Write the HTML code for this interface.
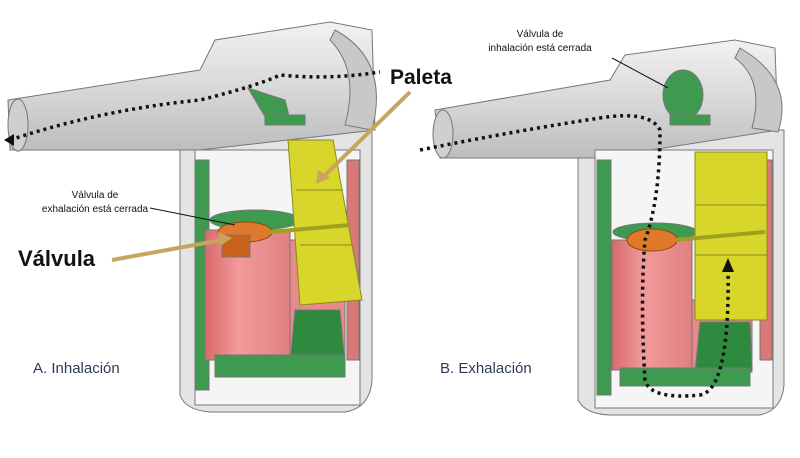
<!DOCTYPE html>
<html><head><meta charset="utf-8"><style>
html,body{margin:0;padding:0;background:#fff;width:800px;height:458px;overflow:hidden}
svg{display:block}
text{font-family:"Liberation Sans",sans-serif}
</style></head><body>
<svg width="800" height="458" viewBox="0 0 800 458" xmlns="http://www.w3.org/2000/svg">
<defs>
<linearGradient id="tube" x1="0" y1="0" x2="0" y2="1"><stop offset="0" stop-color="#f2f2f2"/><stop offset="0.5" stop-color="#d9d9d9"/><stop offset="1" stop-color="#bdbdbd"/></linearGradient>
<linearGradient id="pink" x1="0" y1="0" x2="1" y2="0"><stop offset="0" stop-color="#d96a6a"/><stop offset="0.4" stop-color="#f29a9a"/><stop offset="1" stop-color="#e08080"/></linearGradient>
</defs>

<!-- LEFT DEVICE -->
<g stroke="#777" stroke-width="1">
<path d="M180,150 L180,395 Q185,410 210,412 L345,412 Q370,408 372,380 L372,130 L180,130 Z" fill="#e4e4e4"/>
<path d="M8,100 L200,70 L215,40 L330,22 L372,30 L375,130 L200,150 L10,150 Z" fill="url(#tube)"/>
<ellipse cx="18" cy="125" rx="10" ry="26" fill="#cfcfcf"/>
<path d="M335,30 Q390,60 372,130 L345,125 Q360,70 330,40 Z" fill="#c8c8c8"/>
<rect x="195" y="150" width="165" height="255" fill="#f5f5f5"/>
<rect x="195" y="160" width="14" height="230" fill="#3e9a4e"/>
<rect x="347" y="160" width="12" height="200" fill="#d97878"/>
<path d="M205,230 L290,230 L290,360 L205,360 Z" fill="url(#pink)"/>
<rect x="290" y="240" width="55" height="120" fill="#e88a8a"/>
<ellipse cx="255" cy="220" rx="45" ry="10" fill="#3e9a4e"/>
<path d="M288,140 L333,140 L362,300 L300,305 Z" fill="#d8d62a" stroke="#8a8a20"/>
<line x1="296" y1="190" x2="343" y2="190" stroke="#8a8a20"/>
<line x1="300" y1="245" x2="352" y2="245" stroke="#8a8a20"/>
<path d="M295,310 L340,310 L345,365 L290,365 Z" fill="#2e8a3e"/>
<rect x="215" y="355" width="130" height="22" fill="#3e9a4e"/>
<ellipse cx="245" cy="232" rx="27" ry="10" fill="#e07a2a" stroke="#8a4a10"/>
<rect x="222" y="235" width="28" height="22" fill="#c8611a"/>
<line x1="270" y1="232" x2="350" y2="225" stroke="#a0a020" stroke-width="4"/>
<path d="M248,88 L285,100 L290,120 L270,125 Z" fill="#3e9a4e"/>
<rect x="265" y="115" width="40" height="10" fill="#3e9a4e"/>
</g>
<path d="M10,140 Q100,110 200,100 Q260,85 280,75 Q330,80 380,72" fill="none" stroke="#111" stroke-width="3.5" stroke-dasharray="3,4"/>
<polygon points="4,140 14,134 14,146" fill="#111"/>
<line x1="410" y1="92" x2="322" y2="178" stroke="#c9a45e" stroke-width="4"/>
<polygon points="316,184 318,170 330,178" fill="#c9a45e"/>
<line x1="112" y1="260" x2="222" y2="240" stroke="#c9a45e" stroke-width="4"/>
<polygon points="232,238 218,232 220,246" fill="#c9a45e"/>
<line x1="150" y1="208" x2="235" y2="225" stroke="#111" stroke-width="1"/>

<!-- RIGHT DEVICE -->
<g stroke="#777" stroke-width="1">
<path d="M578,160 L578,400 Q585,414 610,415 L760,415 Q782,410 784,385 L784,130 L578,130 Z" fill="#e4e4e4"/>
<path d="M435,110 L610,80 L625,55 L735,40 L775,48 L778,130 L600,158 L440,158 Z" fill="url(#tube)"/>
<ellipse cx="443" cy="134" rx="10" ry="24" fill="#cfcfcf"/>
<path d="M740,48 Q795,80 778,132 L752,128 Q765,80 735,58 Z" fill="#c8c8c8"/>
<rect x="595" y="150" width="178" height="258" fill="#f5f5f5"/>
<rect x="597" y="160" width="14" height="235" fill="#3e9a4e"/>
<rect x="760" y="160" width="12" height="200" fill="#d97878"/>
<path d="M612,240 L692,240 L692,370 L612,370 Z" fill="url(#pink)"/>
<rect x="692" y="300" width="60" height="70" fill="#e88a8a"/>
<ellipse cx="655" cy="232" rx="42" ry="9" fill="#3e9a4e"/>
<rect x="695" y="152" width="72" height="168" fill="#d8d62a" stroke="#8a8a20"/>
<line x1="695" y1="205" x2="767" y2="205" stroke="#8a8a20"/>
<line x1="695" y1="255" x2="767" y2="255" stroke="#8a8a20"/>
<path d="M700,322 L750,322 L752,372 L695,372 Z" fill="#2e8a3e"/>
<rect x="620" y="368" width="130" height="18" fill="#3e9a4e"/>
<ellipse cx="652" cy="240" rx="25" ry="11" fill="#e07a2a" stroke="#8a4a10"/>
<line x1="675" y1="240" x2="765" y2="232" stroke="#a0a020" stroke-width="4"/>
<ellipse cx="683" cy="95" rx="20" ry="25" fill="#3e9a4e"/>
<rect x="670" y="115" width="40" height="10" fill="#3e9a4e"/>
</g>
<path d="M420,150 Q520,130 600,118 Q650,110 660,130 Q660,200 645,240 Q640,300 645,380 Q650,400 700,395 Q730,390 728,270" fill="none" stroke="#111" stroke-width="3.5" stroke-dasharray="3,4"/>
<polygon points="728,258 722,272 734,272" fill="#111"/>
<line x1="612" y1="58" x2="668" y2="88" stroke="#111" stroke-width="1"/>

<!-- LABELS -->
<text x="390" y="84" font-size="21" font-weight="bold" fill="#111">Paleta</text>
<text x="18" y="266" font-size="22" font-weight="bold" fill="#111">Válvula</text>
<text x="95" y="198" font-size="10" text-anchor="middle" fill="#111">Válvula de</text>
<text x="95" y="212" font-size="10" text-anchor="middle" fill="#111">exhalación está cerrada</text>
<text x="540" y="37" font-size="10" text-anchor="middle" fill="#111">Válvula de</text>
<text x="540" y="51" font-size="10" text-anchor="middle" fill="#111">inhalación está cerrada</text>
<text x="33" y="373" font-size="15" fill="#2d3a5a">A. Inhalación</text>
<text x="440" y="373" font-size="15" fill="#2d3a5a">B. Exhalación</text>
</svg>
</body></html>
